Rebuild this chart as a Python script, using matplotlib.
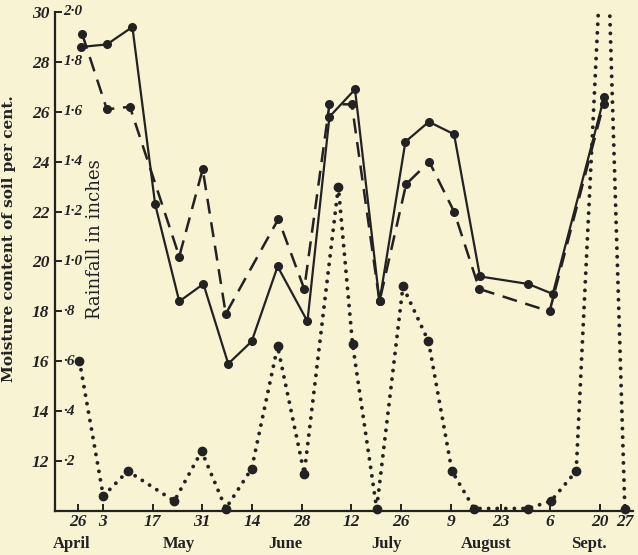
import matplotlib
matplotlib.use("Agg")
import matplotlib.pyplot as plt
import matplotlib.transforms as mtransforms

# ---------------- data (x = days after 26 April) ----------------
days_solid = [0.9, 8.1, 15.3, 21.7, 28.5, 35.3, 42.3, 48.9, 56.2, 64.6,
              70.8, 78.0, 84.9, 92.2, 98.8, 105.9, 113.2, 126.8, 133.7, 148.2]
moist_solid = [28.6, 28.7, 29.4, 22.3, 18.4, 19.1, 15.9, 16.8, 19.8, 17.6,
               25.8, 26.9, 18.4, 24.8, 25.6, 25.1, 19.4, 19.1, 18.7, 26.6]

days_dashed = [1.2, 8.1, 14.6, 28.5, 35.1, 41.6, 56.4, 63.7, 70.8, 77.1,
               84.9, 92.4, 98.9, 105.9, 113.0, 132.8, 148.0]
moist_dashed = [29.1, 26.1, 26.2, 20.2, 23.7, 17.9, 21.7, 18.9, 26.3, 26.3,
                18.4, 23.1, 24.0, 22.0, 18.9, 18.0, 26.3]

days_rain = [0.4, 7.1, 14.0, 27.1, 34.8, 41.6, 48.9, 56.2, 63.7, 73.3, 77.3,
             84.1, 91.5, 98.7, 105.3, 111.5, 126.7, 133.2, 140.3, 148.5, 154.0]
rain_in = [0.60, 0.06, 0.16, 0.04, 0.24, 0.01, 0.17, 0.66, 0.15, 1.30, 0.67,
           0.01, 0.90, 0.68, 0.16, 0.01, 0.01, 0.04, 0.16, 2.58, 0.01]

moist_ticks = [12, 14, 16, 18, 20, 22, 24, 26, 28, 30]
moist_labels = ["12", "14", "16", "18", "20", "22", "24", "26", "28", "30"]
rain_labels = ["·2", "·4", "·6", "·8", "1·0", "1·2", "1·4", "1·6", "1·8", "2·0"]

date_ticks = [0, 7, 21, 35, 49, 63, 77, 91, 105, 119, 133, 147, 154]
date_labels = ["26", "3", "17", "31", "14", "28", "12", "26", "9", "23", "6", "20", "27"]

months = ["April", "May", "June", "July", "August", "Sept."]
month_pos = [-1.7, 28.5, 58.3, 87.0, 115.0, 144.0]   # layout anchors

# ---------------- style ----------------
BG = "#f8f3d3"
INK = "#222222"
SERIF = ["Liberation Serif", "DejaVu Serif"]
WIDE = ["DejaVu Serif"]

fig = plt.figure(figsize=(6.38, 5.55), dpi=100, facecolor=BG)
ax = fig.add_axes([55 / 638, 44 / 555, 578 / 638, 499 / 555])
ax.set_facecolor(BG)
ax.set_xlim(-6.5, 156.3)
ax.set_ylim(10, 30)

for s in ["top", "right"]:
    ax.spines[s].set_visible(False)
for s in ["left", "bottom"]:
    ax.spines[s].set_color(INK)
    ax.spines[s].set_linewidth(1.6)

ax.set_yticks(moist_ticks)
ax.set_yticklabels(moist_labels, fontfamily=SERIF, fontweight="bold",
                   fontstyle="italic", fontsize=12.5, color=INK)
ax.tick_params(axis="y", direction="in", length=5, width=1.4, color=INK, pad=4)

ax.set_xticks(date_ticks)
ax.set_xticklabels(date_labels, fontfamily=SERIF, fontweight="bold",
                   fontstyle="italic", fontsize=12.5, color=INK)
ax.tick_params(axis="x", direction="in", length=5, width=1.4, color=INK, pad=2)

# rainfall labels just inside the axis
for t, lab in zip(moist_ticks, rain_labels):
    ax.annotate(lab, xy=(0, t), xycoords=("axes fraction", "data"),
                xytext=(6, 0), textcoords="offset points",
                ha="left", va="center", fontfamily=SERIF, fontweight="bold",
                fontstyle="italic", fontsize=11, color=INK)

# month labels
trans = mtransforms.blended_transform_factory(ax.transData, ax.transAxes)
for m, p in zip(months, month_pos):
    ax.text(p, -0.066, m, transform=trans, ha="center", va="center",
            fontfamily=SERIF, fontweight="bold", fontsize=12, color=INK)

# axis titles
ax.set_ylabel("Moisture content of soil per cent.", fontfamily=WIDE,
              fontsize=11, fontweight="bold", color=INK)
ax.yaxis.set_label_coords(-0.068, 0.545)
ax.text(0.069, 0.545, "Rainfall in inches", transform=ax.transAxes,
        rotation=90, ha="center", va="center", fontfamily=WIDE,
        fontsize=13, color=INK)

# moisture series
ax.plot(days_solid, moist_solid, color=INK, lw=1.6, marker="o", ms=5.5,
        zorder=4)
ax.plot(days_dashed, moist_dashed, color=INK, lw=1.8, marker="o", ms=5.5,
        dashes=(6, 3.5), zorder=4)

# rainfall on its own scale
ax2 = ax.twinx()
ax2.set_ylim(0, 2.0)
ax2.set_axis_off()
ax2.plot(days_rain, rain_in, color=INK, lw=2.8, linestyle=(0, (0.01, 2.2)),
         dash_capstyle="round", zorder=3)
ax2.plot(days_rain, rain_in, color=INK, lw=0, marker="o", ms=6,
         clip_on=False, zorder=5)

fig.savefig("out.png", dpi=100, facecolor=BG)
